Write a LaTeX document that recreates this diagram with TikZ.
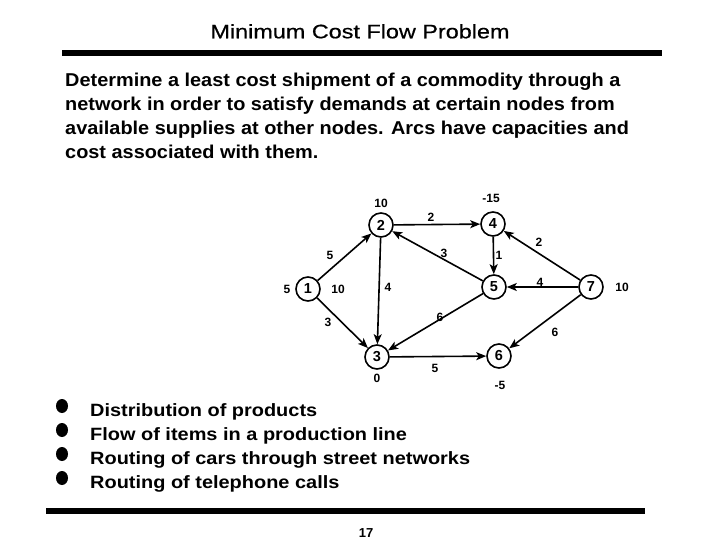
\documentclass[tikz,border=0pt]{standalone}
\usepackage{fontspec}
\setmainfont{Liberation Sans}
\newfontfamily\titlefont{Liberation Sans}[FakeStretch=1.2,FakeBold=0.6]
\newfontfamily\parafont{Liberation Sans}[FakeStretch=1.07]
\newfontfamily\bulletfont{Liberation Sans}[FakeStretch=1.12]
\usetikzlibrary{arrows.meta}
\tikzset{
  vertex/.style={circle, draw, line width=1.6pt, minimum size=24pt, inner sep=0pt, font=\fontsize{14.5}{14}\selectfont\bfseries},
  arc/.style={line width=1.6pt, -{Stealth[length=10pt,width=8pt,inset=2.5pt]}},
  lab/.style={inner sep=0pt, font=\fontsize{12}{12}\selectfont\bfseries},
  paraline/.style={anchor=base west, inner sep=0pt, font=\parafont\fontsize{18.6}{24}\selectfont\bfseries},
  bulline/.style={anchor=base west, inner sep=0pt, font=\bulletfont\fontsize{17.8}{24}\selectfont\bfseries},
  bul/.style={ellipse, fill=black, minimum width=12pt, minimum height=14pt, inner sep=0pt},
  rule/.style={line width=5.5pt}
}
\usetikzlibrary{shapes.geometric}
\begin{document}
\begin{tikzpicture}[x=1pt,y=-1pt]
\useasboundingbox (0,0) rectangle (720,540);
\fill[white] (0,0) rectangle (720,540);

% title and rules
\node[anchor=base, inner sep=0pt, font=\titlefont\fontsize{19.5}{20}\selectfont] (title) at (360,38.3) {Minimum Cost Flow Problem};
\coordinate (r1a) at (62,53); \coordinate (r1b) at (662,53);
\draw[rule] (r1a) -- (r1b);
\coordinate (r2a) at (46,511); \coordinate (r2b) at (645,511);
\draw[rule] (r2a) -- (r2b);

% paragraph
\node[paraline] (p1) at (65,86.7) {Determine a least cost shipment of a commodity through a};
\node[paraline] (p2) at (65,110.7) {network in order to satisfy demands at certain nodes from};
\node[paraline] (p3) at (65,135) {available supplies at other nodes. Arcs have capacities and};
\node[paraline] (p4) at (65,159) {cost associated with them.};

% network
\node[vertex] (n1) at (308,289) {1};
\node[vertex] (n2) at (381,225) {2};
\node[vertex] (n3) at (377,357) {3};
\node[vertex] (n4) at (493,224) {4};
\node[vertex] (n5) at (494,287) {5};
\node[vertex] (n6) at (499,356) {6};
\node[vertex] (n7) at (591,287) {7};

\draw[arc] (n1) -- (n2);
\draw[arc] (n1) -- (n3);
\draw[arc] (n2) -- (n3);
\draw[arc] (n2) -- (n4);
\draw[arc] (n5) -- (n2);
\draw[arc] (n4) -- (n5);
\draw[arc] (n5) -- (n3);
\draw[arc] (n3) -- (n6);
\draw[arc] (n7) -- (n4);
\draw[arc] (n7) -- (n5);
\draw[arc] (n7) -- (n6);

% supplies / demands
\node[lab] (s1) at (287,289) {5};
\node[lab] (s1b) at (338,289) {10};
\node[lab] (s2) at (381,203) {10};
\node[lab] (s4) at (491,198) {-15};
\node[lab] (s7) at (622,287) {10};
\node[lab] (s3) at (377,378) {0};
\node[lab] (s6) at (500,385) {-5};

% arc costs
\node[lab] (c12) at (330,255) {5};
\node[lab] (c13) at (328,322) {3};
\node[lab] (c23) at (388,287) {4};
\node[lab] (c24) at (431,217) {2};
\node[lab] (c52) at (444,253) {3};
\node[lab] (c45) at (499,255) {1};
\node[lab] (c74) at (539,242) {2};
\node[lab] (c75) at (540,282) {4};
\node[lab] (c76) at (555,332) {6};
\node[lab] (c53) at (440,317) {6};
\node[lab] (c36) at (435,368) {5};

% bullets
\node[bul] (b1) at (62,406) {};
\node[bul] (b2) at (62,430) {};
\node[bul] (b3) at (62,454) {};
\node[bul] (b4) at (62,478) {};
\node[bulline] (t1) at (90,416) {Distribution of products};
\node[bulline] (t2) at (90,440) {Flow of items in a production line};
\node[bulline] (t3) at (90,464) {Routing of cars through street networks};
\node[bulline] (t4) at (90,488) {Routing of telephone calls};

% page number
\node[lab, font=\fontsize{13}{13}\selectfont\bfseries] (pg) at (366,533) {17};
\end{tikzpicture}
\end{document}
